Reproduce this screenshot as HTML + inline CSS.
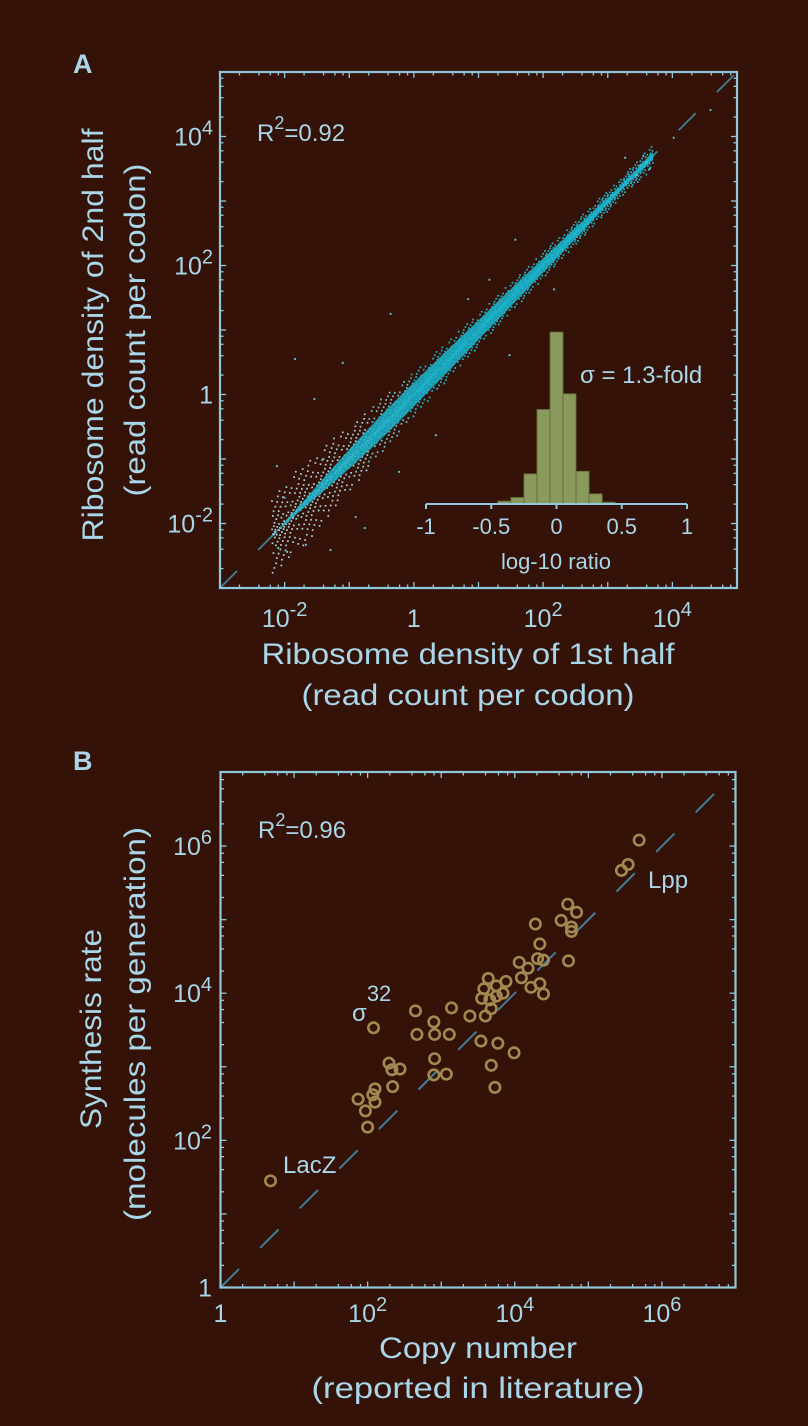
<!DOCTYPE html>
<html><head><meta charset="utf-8"><style>
html,body{margin:0;padding:0;background:#351208;}
svg{display:block;}
text{font-family:"Liberation Sans","DejaVu Sans",sans-serif;fill:#a9d6e8;}
</style></head><body>
<svg id="fig" width="808" height="1426" viewBox="0 0 808 1426" xmlns="http://www.w3.org/2000/svg">
<rect x="0" y="0" width="808" height="1426" fill="#351208"/>
<g id="panelA"></g>
<g id="panelB"></g>
</svg>
<script>
// ---------- Panel A data ----------
const axisTicksA = [-2, 0, 2, 4];
const bandLogX = [-2.2, -1.8, -1.4, -1.0, -0.6, -0.2, 0.2, 0.6, 1.0, 1.4, 1.8, 2.2, 2.6, 3.0, 3.3, 3.7];
const haloHalfWidth = [0.6, 0.65, 0.6, 0.5, 0.45, 0.38, 0.32, 0.3, 0.26, 0.24, 0.22, 0.2, 0.18, 0.16, 0.15, 0.2];
const coreHalfWidth = [0.0, 0.04, 0.1, 0.15, 0.18, 0.19, 0.18, 0.17, 0.15, 0.14, 0.12, 0.1, 0.08, 0.05, 0.04, 0.06];
const outlierLogX = [-1.84, -0.36, 1.57, -1.1, -2.12, -2.1, -1.67, -1.29, -0.76, 1.17, 0.84, 3.27, 4.59, 4.02, 0.34, -0.23, -1.96, -1.54, 1.48, 2.17, 3.5, 3.6, 3.45, 3.55, 3.65, -2.0, -1.4, -0.9];
const outlierLogY = [0.55, 1.25, 2.4, 0.49, -1.11, -2.38, -2.33, -2.41, -2.07, 1.78, 1.48, 3.67, 4.41, 3.98, -0.63, -1.2, -2.44, -0.07, 0.61, 1.63, 3.55, 3.6, 3.4, 3.7, 3.5, -1.6, -1.0, -1.9];
const histBins = [-0.4, -0.3, -0.2, -0.1, 0, 0.1, 0.2, 0.3, 0.4];
const histCounts = [8, 18, 83, 260, 473, 303, 90, 28, 5];
const histTicks = [-1, -0.5, 0, 0.5, 1];
const histTickLabels = ["-1", "-0.5", "0", "0.5", "1"];
// ---------- Panel B data ----------
const axisTicksB = [0, 2, 4, 6];
const copyLog = [0.68,5.69,5.45,5.54,4.72,4.84,4.63,4.77,4.77,4.73,4.28,4.34,4.31,4.39,4.06,4.18,4.09,4.34,4.22,4.39,3.88,3.84,3.64,3.75,3.58,3.55,3.66,3.75,3.68,3.60,3.39,3.14,2.65,2.90,2.67,2.91,3.11,2.08,2.91,2.90,3.07,2.29,2.33,2.44,2.34,3.54,3.77,3.99,3.68,3.73,2.10,2.07,1.87,2.10,1.97,2.00];
const synthLog = [1.45,6.08,5.67,5.75,5.21,5.10,4.99,4.90,4.84,4.44,4.94,4.67,4.47,4.45,4.42,4.34,4.21,4.13,4.08,3.99,4.16,4.00,4.20,4.10,4.06,3.93,3.91,3.96,3.79,3.69,3.69,3.80,3.76,3.61,3.44,3.44,3.44,3.53,3.11,2.89,2.90,3.05,2.96,2.97,2.73,3.35,3.32,3.19,3.02,2.72,2.70,2.62,2.56,2.52,2.40,2.18];

const NS = "http://www.w3.org/2000/svg";
function mk(parent, tag, attrs, txt) {
  const e = document.createElementNS(NS, tag);
  for (const k in attrs) e.setAttribute(k, attrs[k]);
  if (txt !== undefined) e.textContent = txt;
  parent.appendChild(e);
  return e;
}
const AXC = "#8fc8dc", DASH = "#3f8099";

const xA = l => 220 + (l + 3) * 517 / 8;
const yA = l => 588 - (l + 3) * 516 / 8;
const xB = l => 220.5 + l * 515 / 7;
const yB = l => 1287.5 - l * 515 / 7;

function powLabel(g, x, y, exp, anchorRight, name) {
  const t = mk(g, "text", {x: x, y: y, "font-size": 25, "text-anchor": anchorRight ? "end" : "middle"});
  
  
  if (exp === 0) { t.textContent = "1"; return t; }
  mk(t, "tspan", {}, "10");
  mk(t, "tspan", {dy: -11, "font-size": 20}, String(exp));
  return t;
}

function frame(g, x0, y0, x1, y1, lo, hi, xf, yf, name) {
  const r = mk(g, "rect", {x: x0, y: y0, width: x1 - x0, height: y1 - y0, fill: "none", stroke: AXC, "stroke-width": 2.2});
  
  
  const tg = mk(g, "g", {stroke: AXC, "stroke-width": 1.3});
  
  
  for (let d = lo; d < hi; d++) {
    for (let m = 1; m <= 9; m++) {
      if (m !== 1 && m % 2 !== 0) continue;
      if (m === 1 && d === lo) continue;
      const l = d + Math.log10(m);
      const len = m === 1 ? 6 : 3.5;
      const px = xf(l), py = yf(l);
      mk(tg, "line", {x1: px, y1: y1, x2: px, y2: y1 - len});
      mk(tg, "line", {x1: px, y1: y0, x2: px, y2: y0 + len});
      mk(tg, "line", {x1: x0, y1: py, x2: x0 + len, y2: py});
      mk(tg, "line", {x1: x1, y1: py, x2: x1 - len, y2: py});
    }
  }
}

function interp(arr, lx) {
  if (lx <= bandLogX[0]) return arr[0];
  for (let i = 1; i < bandLogX.length; i++) {
    if (lx <= bandLogX[i]) {
      const f = (lx - bandLogX[i-1]) / (bandLogX[i] - bandLogX[i-1]);
      return arr[i-1] + f * (arr[i] - arr[i-1]);
    }
  }
  return arr[arr.length - 1];
}

// ---------- Panel A ----------
const A = document.getElementById("panelA");
let t = mk(A, "text", {x: 73, y: 73, "font-size": 27, "font-weight": "bold"}, "A");
 

let dl = mk(A, "line", {x1: xA(-3), y1: yA(-3), x2: xA(5), y2: yA(5), stroke: DASH, "stroke-width": 1.8, "stroke-dasharray": "24 30"});
 

function bandPath(half) {
  let up = [], dn = [];
  for (let i = 0; i < bandLogX.length; i++) {
    const lx = bandLogX[i];
    up.push(xA(lx) + "," + yA(lx + half[i]));
    dn.unshift(xA(lx) + "," + yA(lx - half[i]));
  }
  return up.concat(dn).join(" ");
}
// speckle texture sampled (quasi-uniformly) inside the halo band envelope
const sg = mk(A, "g", {});
 
const lx0 = bandLogX[0], lx1 = bandLogX[bandLogX.length - 1];
const a1 = 0.7548776662466927, a2 = 0.5698402909980532;
for (let k = 1; k <= 1600; k++) {
  const u = (0.5 + k * a1) % 1, v = (0.5 + k * a2) % 1;
  const lx = lx0 + (lx1 - lx0) * u;
  const s = 2 * v - 1;
  const off = s * Math.abs(s) * interp(haloHalfWidth, lx);
  const whiteness = Math.max(0, Math.min(1, (0.2 - lx) / 1.8));
  const col = whiteness > 0.5 ? "#a9d4e2" : (whiteness > 0.15 ? "#6fc6da" : "#1fb6cf");
  mk(sg, "rect", {x: xA(lx) - 0.8, y: yA(lx + off) - 0.8, width: 1.7, height: 1.7, fill: col});
}
let core = mk(A, "polygon", {points: bandPath(coreHalfWidth), fill: "#1ab4cc", opacity: 0.85});
 

const og = mk(A, "g", {fill: "#5cc4d8"});
 
for (let i = 0; i < outlierLogX.length; i++) {
  const c = mk(og, "circle", {cx: xA(outlierLogX[i]), cy: yA(outlierLogY[i]), r: 1.1});
  
  
}

// histogram inset
const xH = v => 556.5 + v * 130.5;
const yH = c => 504 - c * 172 / 473;
const hg = mk(A, "g", {fill: "#8a9a5c", stroke: "#5b6a35", "stroke-width": 0.8});
 
for (let i = 0; i < histBins.length; i++) {
  const b = mk(hg, "rect", {x: xH(histBins[i] - 0.05), y: yH(histCounts[i]), width: xH(0.05) - xH(-0.05), height: 504 - yH(histCounts[i])});
  
  
}
let ha = mk(A, "line", {x1: xH(-1), y1: 504, x2: xH(1), y2: 504, stroke: AXC, "stroke-width": 2});
 
for (let i = 0; i < histTicks.length; i++) {
  mk(A, "line", {x1: xH(histTicks[i]), y1: 504, x2: xH(histTicks[i]), y2: 509, stroke: AXC, "stroke-width": 2});
  const tl = mk(A, "text", {x: xH(histTicks[i]), y: 534, "font-size": 22, "text-anchor": "middle"}, histTickLabels[i]);
  
  
}
t = mk(A, "text", {x: 556, y: 569, "font-size": 22, "text-anchor": "middle"}, "log-10 ratio");
 
t = mk(A, "text", {x: 580, y: 383, "font-size": 24}, "σ = 1.3-fold");
 

t = mk(A, "text", {x: 257, y: 141, "font-size": 24});
 
mk(t, "tspan", {}, "R"); mk(t, "tspan", {dy: -12, "font-size": 18}, "2"); mk(t, "tspan", {dy: 12}, "=0.92");

frame(A, 220, 72, 737, 588, -3, 5, xA, yA, "plot-frame-a");
for (const d of axisTicksA) {
  powLabel(A, xA(d), 627, d, false, "x-tick-label-a");
  powLabel(A, 213, yA(d) + 9, d, true, "y-tick-label-a");
}
t = mk(A, "text", {x: 468, y: 664, "font-size": 30, "text-anchor": "middle", textLength: 413, lengthAdjust: "spacingAndGlyphs"}, "Ribosome density of 1st half");
 
t = mk(A, "text", {x: 468, y: 705, "font-size": 30, "text-anchor": "middle", textLength: 333, lengthAdjust: "spacingAndGlyphs"}, "(read count per codon)");
 
t = mk(A, "text", {x: 0, y: 0, "font-size": 30, "text-anchor": "middle", textLength: 413, lengthAdjust: "spacingAndGlyphs", transform: "translate(103,335) rotate(-90)"}, "Ribosome density of 2nd half");
 
t = mk(A, "text", {x: 0, y: 0, "font-size": 30, "text-anchor": "middle", textLength: 333, lengthAdjust: "spacingAndGlyphs", transform: "translate(145,330) rotate(-90)"}, "(read count per codon)");
 

// ---------- Panel B ----------
const B = document.getElementById("panelB");
t = mk(B, "text", {x: 73, y: 770, "font-size": 27, "font-weight": "bold"}, "B");
 
dl = mk(B, "line", {x1: xB(0), y1: yB(0), x2: xB(7), y2: yB(7), stroke: DASH, "stroke-width": 2, "stroke-dasharray": "26 30"});
 
const cg = mk(B, "g", {fill: "none", stroke: "#a08a52", "stroke-width": 2.6});
 
for (let i = 0; i < copyLog.length; i++) {
  const c = mk(cg, "circle", {cx: xB(copyLog[i]), cy: yB(synthLog[i]), r: 5.2});
  
  
}
t = mk(B, "text", {x: 258, y: 838, "font-size": 24});
 
mk(t, "tspan", {}, "R"); mk(t, "tspan", {dy: -12, "font-size": 18}, "2"); mk(t, "tspan", {dy: 12}, "=0.96");
t = mk(B, "text", {x: 352, y: 1021, "font-size": 24});
 
mk(t, "tspan", {}, "σ"); mk(t, "tspan", {dy: -20, "font-size": 22}, "32");
t = mk(B, "text", {x: 283, y: 1173, "font-size": 24}, "LacZ");
 
t = mk(B, "text", {x: 648, y: 888, "font-size": 24}, "Lpp");
 

frame(B, 220.5, 772, 735.5, 1287.5, 0, 7, xB, yB, "plot-frame-b");
for (const d of axisTicksB) {
  powLabel(B, xB(d), 1322, d, false, "x-tick-label-b");
  powLabel(B, 212, yB(d) + 9, d, true, "y-tick-label-b");
}
t = mk(B, "text", {x: 478, y: 1358, "font-size": 30, "text-anchor": "middle", textLength: 198, lengthAdjust: "spacingAndGlyphs"}, "Copy number");
 
t = mk(B, "text", {x: 478, y: 1398, "font-size": 30, "text-anchor": "middle", textLength: 333, lengthAdjust: "spacingAndGlyphs"}, "(reported in literature)");
 
t = mk(B, "text", {x: 0, y: 0, "font-size": 30, "text-anchor": "middle", textLength: 200, lengthAdjust: "spacingAndGlyphs", transform: "translate(101,1029) rotate(-90)"}, "Synthesis rate");
 
t = mk(B, "text", {x: 0, y: 0, "font-size": 30, "text-anchor": "middle", textLength: 394, lengthAdjust: "spacingAndGlyphs", transform: "translate(145,1024) rotate(-90)"}, "(molecules per generation)");
 
</script>
</body></html>
